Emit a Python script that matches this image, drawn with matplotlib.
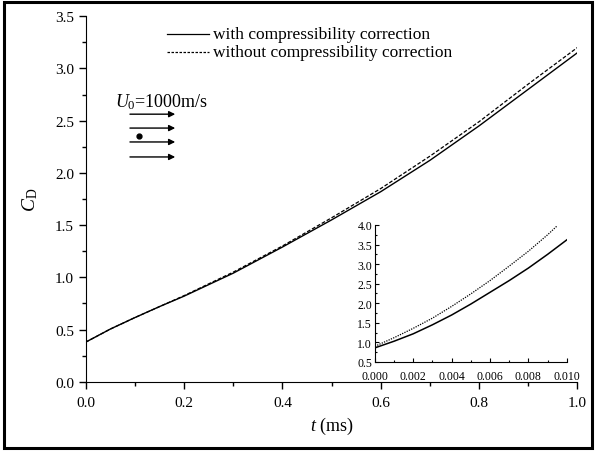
import matplotlib
matplotlib.use("Agg")
import matplotlib.pyplot as plt
from matplotlib.ticker import MultipleLocator, FormatStrFormatter
from matplotlib.patches import Rectangle
from matplotlib.lines import Line2D

plt.rcParams['font.family'] = ['Liberation Serif', 'DejaVu Serif']
plt.rcParams['mathtext.fontset'] = 'custom'
plt.rcParams['mathtext.rm'] = 'Liberation Serif'
plt.rcParams['mathtext.it'] = 'Liberation Serif:italic'

# main plot data (t in ms)
t_main = [0.0, 0.02, 0.05, 0.1, 0.15, 0.2, 0.3, 0.4, 0.5, 0.6, 0.7, 0.8, 0.9, 1.0]
cd_with = [0.38, 0.43, 0.505, 0.615, 0.72, 0.82, 1.04, 1.29, 1.55, 1.82, 2.12, 2.45, 2.80, 3.15]
cd_without = [0.38, 0.43, 0.505, 0.615, 0.72, 0.825, 1.05, 1.30, 1.57, 1.85, 2.16, 2.49, 2.85, 3.20]

# inset data
t_in_with = [0.0, 0.001, 0.002, 0.003, 0.004, 0.005, 0.006, 0.007, 0.008, 0.009, 0.010]
cd_in_with = [0.86, 1.03, 1.22, 1.45, 1.70, 1.98, 2.28, 2.58, 2.90, 3.25, 3.62]
t_in_without = [0.0, 0.001, 0.002, 0.003, 0.004, 0.005, 0.006, 0.007, 0.008, 0.009, 0.0095]
cd_in_without = [0.90, 1.12, 1.36, 1.62, 1.92, 2.24, 2.58, 2.95, 3.33, 3.75, 3.98]

labels = ['with compressibility correction', 'without compressibility correction']

fig = plt.figure(figsize=(5.96, 4.52), dpi=100)
fig.patches.append(Rectangle((0.006, 0.006), 0.988, 0.988, transform=fig.transFigure,
                             fill=False, edgecolor='black', linewidth=2.2))

ax = fig.add_axes([0.1438, 0.153, 0.825, 0.809])
ax.plot(t_main, cd_with, color='black', lw=1.0, ls='-')
ax.plot(t_main, cd_without, color='black', lw=0.9, ls=(0, (3, 1.5)))
ax.set_xlim(0, 1.0)
ax.set_ylim(0, 3.5)
ax.xaxis.set_major_locator(MultipleLocator(0.2))
ax.xaxis.set_minor_locator(MultipleLocator(0.1))
ax.yaxis.set_major_locator(MultipleLocator(0.5))
ax.yaxis.set_minor_locator(MultipleLocator(0.25))
ax.xaxis.set_major_formatter(FormatStrFormatter('%.1f'))
ax.yaxis.set_major_formatter(FormatStrFormatter('%.1f'))
for s in ['top', 'right']:
    ax.spines[s].set_visible(False)
ax.tick_params(which='major', direction='out', length=5, width=1, labelsize=11)
ax.tick_params(axis='x', which='major', pad=5.5)
ax.tick_params(which='minor', direction='out', length=3, width=1)
ax.set_xlabel(r'$t$ (ms)', fontsize=13, labelpad=4)
ax.set_ylabel(r'$C_{\mathrm{D}}$', fontsize=14, labelpad=11)

# legend (drawn manually)
for yf, style, txt in [(0.951, '-', labels[0]), (0.902, (0, (2, 1.2)), labels[1])]:
    ax.add_line(Line2D([0.166, 0.251], [yf, yf], transform=ax.transAxes, color='black',
                       lw=0.9, ls=style, clip_on=False))
    ax.text(0.259, yf, txt, transform=ax.transAxes, fontsize=12.5, ha='left', va='center')

# flow indicator
ax.text(0.060, 0.768, r'$U_0$=1000m/s', transform=ax.transAxes, fontsize=13, ha='left', va='center')
for yf in [0.732, 0.694, 0.656, 0.615]:
    ax.annotate('', xy=(0.182, yf), xytext=(0.090, yf), xycoords='axes fraction',
                arrowprops=dict(arrowstyle='-|>', color='black', lw=1.0, mutation_scale=9,
                                shrinkA=0, shrinkB=0))
ax.plot([0.108], [0.673], 'o', color='black', ms=3.5, transform=ax.transAxes, clip_on=False)

# inset
ins = fig.add_axes([0.629, 0.197, 0.322, 0.303])
ins.plot(t_in_with, cd_in_with, color='black', lw=1.1, ls='-')
ins.plot(t_in_without, cd_in_without, color='black', lw=0.9, ls=(0, (1, 1)))
ins.set_xlim(0, 0.010)
ins.set_ylim(0.5, 4.0)
ins.xaxis.set_major_locator(MultipleLocator(0.002))
ins.xaxis.set_minor_locator(MultipleLocator(0.001))
ins.yaxis.set_major_locator(MultipleLocator(0.5))
ins.yaxis.set_minor_locator(MultipleLocator(0.25))
ins.xaxis.set_major_formatter(FormatStrFormatter('%.3f'))
ins.yaxis.set_major_formatter(FormatStrFormatter('%.1f'))
for s in ['top', 'right']:
    ins.spines[s].set_visible(False)
ins.patch.set_alpha(0)
ins.tick_params(which='major', direction='in', length=3, width=0.8, labelsize=8.5, pad=2.0)
ins.tick_params(axis='x', which='major', pad=5.5)
ins.tick_params(which='minor', direction='in', length=1.5, width=0.8)

fig.savefig('out.png', dpi=100)
